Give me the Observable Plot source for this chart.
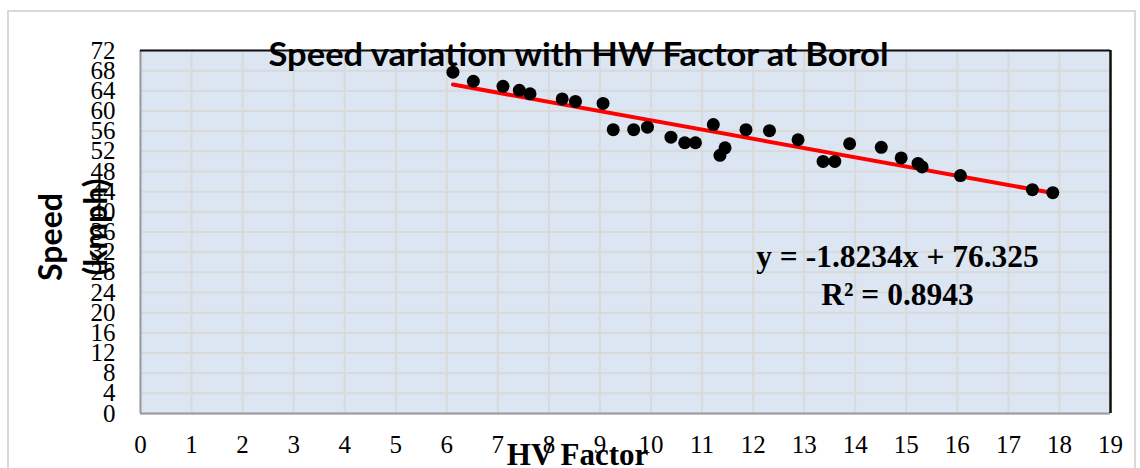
<!DOCTYPE html>
<html>
<head>
<meta charset="utf-8">
<script src="https://cdn.jsdelivr.net/npm/d3@7"></script>
<script src="https://cdn.jsdelivr.net/npm/@observablehq/plot@0.6"></script>
<style>
  html, body { margin: 0; padding: 0; background: #fff; }
  #wrap { position: relative; width: 1140px; height: 468px; overflow: hidden; }
  #border { position: absolute; left: 7px; top: 10px; width: 1129px; height: 470px; border: 2px solid #d9d9d9; box-sizing: border-box; pointer-events: none; }
  #chart { position: absolute; left: 0; top: 0; }
</style>
</head>
<body>
<div id="wrap"><div id="border"></div><div id="chart"></div></div>
<script>
// ---- data ----
const hvFactor = [6.12, 6.52, 7.10, 7.42, 7.63, 8.26, 8.52, 9.06, 9.26, 9.66, 9.93, 10.39, 10.66, 10.87, 11.22, 11.35, 11.45, 11.86, 12.32, 12.88, 13.37, 13.60, 13.89, 14.51, 14.90, 15.23, 15.31, 16.06, 17.47, 17.87];
const speed    = [67.7, 65.9, 64.9, 64.1, 63.4, 62.4, 61.9, 61.5, 56.3, 56.3, 56.8, 54.8, 53.7, 53.7, 57.3, 51.2, 52.7, 56.3, 56.1, 54.3, 50.0, 50.0, 53.5, 52.8, 50.7, 49.6, 48.9, 47.2, 44.4, 43.8];
const xTicks = d3.range(0, 20, 1);
const yTicks = d3.range(0, 73, 4);
const titleText = "Speed variation with HW Factor at Borol";
const xLabel = "HV Factor";
const yLabel1 = "Speed";
const yLabel2 = "(kmph)";
const eqText = "y = -1.8234x + 76.325";
const r2Text = "R² = 0.8943";

const points = hvFactor.map((x, i) => ({x, y: speed[i]}));

const serif = "'Liberation Serif', 'Times New Roman', serif";
const sans = "Lato, 'Open Sans', sans-serif";

const chart = Plot.plot({
  width: 1140,
  height: 468,
  marginLeft: 140,
  marginTop: 50,
  marginRight: 30,
  marginBottom: 55,
  style: {background: "transparent", fontFamily: serif, overflow: "visible"},
  x: {domain: [0, 19], ticks: xTicks, label: null},
  y: {domain: [0, 72], ticks: yTicks, label: null},
  marks: [
    Plot.frame({fill: "#dce6f2", stroke: "none"}),
    Plot.gridX(xTicks, {stroke: "#d9d9d9", strokeOpacity: 1, strokeWidth: 2}),
    Plot.gridY(yTicks, {stroke: "#d9d9d9", strokeOpacity: 1, strokeWidth: 2}),
    Plot.ruleX([0], {stroke: "#9a9a9a", strokeWidth: 2}),
    Plot.ruleY([0], {stroke: "#9a9a9a", strokeWidth: 2}),
    Plot.ruleY([72], {stroke: "#111", strokeWidth: 2}),
    Plot.ruleX([19], {stroke: "#111", strokeWidth: 2.5}),
    Plot.axisX(xTicks, {tickSize: 0, tickPadding: 22, fontSize: 25, fontFamily: serif, fill: "#000", label: null}),
    Plot.axisY(yTicks, {tickSize: 0, tickPadding: 25, fontSize: 25, fontFamily: serif, fill: "#000", label: null}),
    Plot.linearRegressionY(points, {x: "x", y: "y", ci: 0, stroke: "#ff0000", strokeWidth: 4}),
    Plot.dot(points, {x: "x", y: "y", r: 6.5, fill: "#000", stroke: "none"}),
    Plot.text([titleText], {frameAnchor: "top", dx: -47, dy: 5, fontSize: 33, fontWeight: "bold", fontFamily: sans, fill: "#000", lineAnchor: "middle"}),
    Plot.text([xLabel], {frameAnchor: "bottom", dx: -48, dy: 42, fontSize: 31, fontWeight: "bold", fontFamily: serif, fill: "#000", lineAnchor: "middle"}),
    Plot.text([yLabel1], {frameAnchor: "left", textAnchor: "middle", dx: -89, dy: 5, rotate: -90, fontSize: 32, fontWeight: "bold", fontFamily: sans, fill: "#000", lineAnchor: "middle"}),
    Plot.text([yLabel2], {frameAnchor: "left", textAnchor: "middle", dx: -44, dy: -5, rotate: -90, fontSize: 32, fontWeight: "bold", fontFamily: sans, fill: "#000", lineAnchor: "middle"}),
    Plot.text([eqText], {frameAnchor: "middle", dx: 272, dy: 25, fontSize: 31.5, fontWeight: "bold", fontFamily: serif, fill: "#000", lineAnchor: "middle"}),
    Plot.text([r2Text], {frameAnchor: "middle", dx: 272, dy: 63, fontSize: 31.5, fontWeight: "bold", fontFamily: serif, fill: "#000", lineAnchor: "middle"})
  ]
});

// condense the title to the width used in the reference
d3.select(chart).selectAll("text").each(function() {
  if (this.textContent === titleText) d3.select(this).attr("textLength", 620).attr("lengthAdjust", "spacingAndGlyphs");
});

document.getElementById("chart").appendChild(chart);
</script>
</body>
</html>
